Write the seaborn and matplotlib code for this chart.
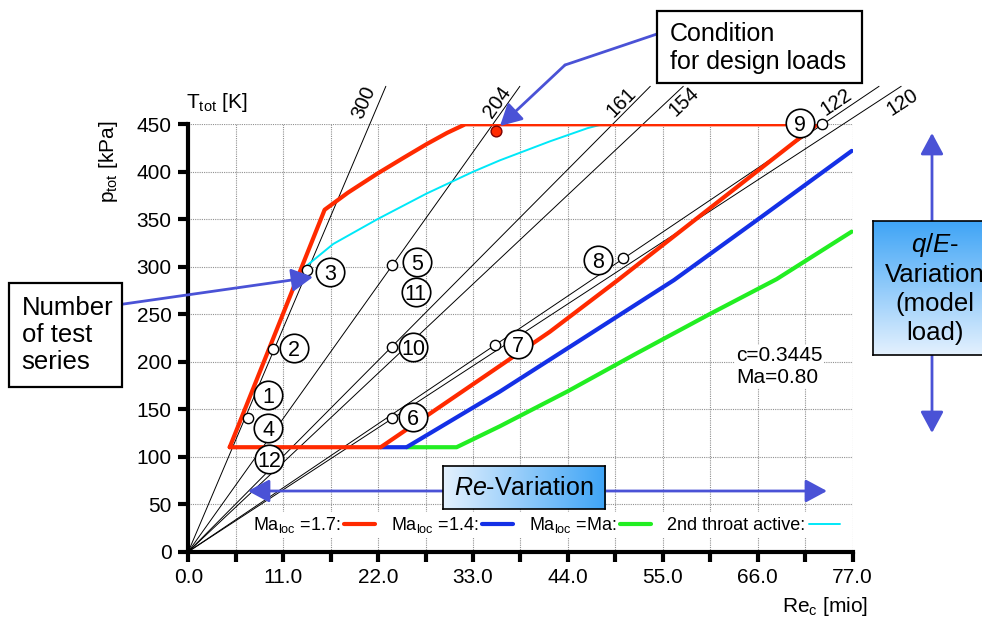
import numpy as np
import pandas as pd
import matplotlib
matplotlib.use("Agg")
import matplotlib.pyplot as plt
import seaborn as sns
from matplotlib.patches import FancyArrowPatch, Rectangle
from matplotlib.lines import Line2D
from matplotlib.colors import LinearSegmentedColormap
from matplotlib.ticker import MultipleLocator, FormatStrFormatter

# ---------------- data ----------------
ma17_re = [4.8, 15.8, 18.5, 21.9, 25.0, 27.6, 30.0, 32.1, 72.9, 49.8, 41.9, 22.3, 4.8]
ma17_p = [110, 360, 378, 398, 415, 429, 441, 450, 450, 286, 231.5, 110, 110]
ma14_re = [22.3, 25.3, 36.1, 46.0, 56.3, 66.5, 76.9]
ma14_p = [110, 110, 168.5, 226, 286, 353, 422]
mama_re = [25.3, 31.1, 36.1, 44.0, 52.0, 60.4, 68.2, 76.9]
mama_p = [110, 110, 132, 169, 209, 250, 287, 337]
throat_re = [13.3, 16.8, 21.9, 27.6, 33.0, 36.1, 41.9, 46.3, 48.0]
throat_p = [298, 324, 350, 377, 400, 412, 432, 446, 450]

ttot_labels = ["300", "204", "161", "154", "122", "120"]
ttot_slope = [21.4, 12.75, 9.15, 8.54, 6.12, 5.93]       # p_tot / Re_c along iso-T lines
ttot_label_re = [20.3, 35.8, 50.2, 57.4, 75.1, 82.8]

test_re = [6.9, 9.8, 13.8, 23.6, 23.6, 23.6, 35.5, 50.4, 73.5]
test_p = [141, 213, 296.5, 301.4, 216, 140.7, 218, 308.8, 450]
design_re = [35.7]
design_p = [443]

series_ids = ["1", "2", "3", "4", "5", "6", "7", "8", "9", "10", "11", "12"]
series_re = [9.27, 12.28, 16.42, 9.27, 26.47, 26.07, 38.17, 47.44, 70.88, 26.07, 26.35, 9.35]
series_p = [165, 214, 294.8, 130, 305.3, 142.1, 218.4, 307.1, 451, 215.9, 273.1, 97.6]

x_ticks = [0, 11, 22, 33, 44, 55, 66, 77]
y_ticks = [0, 50, 100, 150, 200, 250, 300, 350, 400, 450]

# ---------------- style ----------------
sns.set_theme(style="white")
plt.rcParams["font.family"] = ["Liberation Sans", "DejaVu Sans"]
plt.rcParams["mathtext.fontset"] = "custom"
plt.rcParams["mathtext.rm"] = "Liberation Sans"
plt.rcParams["mathtext.it"] = "Liberation Sans:italic"
plt.rcParams["mathtext.bf"] = "Liberation Sans:bold"
for key in ["text.color", "axes.labelcolor", "xtick.color", "ytick.color",
            "xtick.labelcolor", "ytick.labelcolor"]:
    plt.rcParams[key] = "black"

W, H = 982, 621
fig = plt.figure(figsize=(W / 100, H / 100), dpi=100)


def fp(x, y):
    return (x / W, 1 - y / H)


ax_l, ax_r, ax_t, ax_b = 188.3, 852.6, 124.3, 551.7
ax = fig.add_axes([ax_l / W, 1 - ax_b / H, (ax_r - ax_l) / W, (ax_b - ax_t) / H])
ax.set_xlim(0, 77)
ax.set_ylim(0, 450)

RED = "#ff2a00"
BLUE = "#1430e6"
GREEN = "#22ee22"
CYAN = "#00e8f8"
ARROW = "#4a52d6"

# iso-temperature lines
for lab, k, lx in zip(ttot_labels, ttot_slope, ttot_label_re):
    pend = 490.0
    sns.lineplot(x=[0, pend / k], y=[0, pend], color="black", lw=0.7,
                 ax=ax, clip_on=False, zorder=2)

sns.lineplot(x=throat_re, y=throat_p, color=CYAN, lw=1.4, ax=ax, sort=False,
             estimator=None, zorder=3, label="2nd throat active:")
sns.lineplot(x=mama_re, y=mama_p, color=GREEN, lw=3, ax=ax, sort=False,
             estimator=None, zorder=3, label="Ma$_{\\mathrm{loc}}$ =Ma:")
sns.lineplot(x=ma14_re, y=ma14_p, color=BLUE, lw=3, ax=ax, sort=False,
             estimator=None, zorder=3, label="Ma$_{\\mathrm{loc}}$ =1.4:")
sns.lineplot(x=ma17_re, y=ma17_p, color=RED, lw=3, ax=ax, sort=False,
             estimator=None, zorder=4, label="Ma$_{\\mathrm{loc}}$ =1.7:")

sns.scatterplot(x=test_re, y=test_p, color="white", edgecolor="black", s=55,
                linewidth=1.0, ax=ax, zorder=6, clip_on=False)
sns.scatterplot(x=design_re, y=design_p, color=RED, edgecolor="#7a0000", s=60,
                linewidth=1.0, ax=ax, zorder=6)
sns.scatterplot(x=series_re, y=series_p, color="white", edgecolor="black", s=420,
                linewidth=1.2, ax=ax, zorder=7, clip_on=False)
for sid, sx, sy in zip(series_ids, series_re, series_p):
    ax.text(sx, sy, sid, ha="center", va="center_baseline", fontsize=15.5, zorder=8)

# iso-T labels
for lab, k, lx in zip(ttot_labels, ttot_slope, ttot_label_re):
    p0 = ax.transData.transform((0, 0))
    p1 = ax.transData.transform((10, 10 * k))
    ang = np.degrees(np.arctan2(p1[1] - p0[1], p1[0] - p0[0]))
    ax.text(lx, 473.5, lab, rotation=ang, rotation_mode="anchor", ha="center",
            va="center", fontsize=14.5, clip_on=False)

# axes styling
ax.set_xticks(x_ticks)
ax.set_yticks(y_ticks)
ax.xaxis.set_minor_locator(MultipleLocator(5.5))
ax.xaxis.set_major_formatter(FormatStrFormatter("%.1f"))
ax.tick_params(which="both", direction="out", length=7, width=3, color="black",
               labelcolor="black", labelsize=15, pad=5)
ax.tick_params(axis="x", which="both", bottom=True)
ax.tick_params(axis="y", left=True)
ax.grid(True, which="both", axis="x", linestyle=(0, (1, 1)), color="#909090", lw=0.8)
ax.grid(True, which="major", axis="y", linestyle=(0, (1, 1)), color="#909090", lw=0.8)
ax.set_axisbelow(True)
for s in ["top", "right"]:
    ax.spines[s].set_visible(False)
for s in ["left", "bottom"]:
    ax.spines[s].set_linewidth(3)
    ax.spines[s].set_color("black")
ax.set_xlabel("")
ax.set_ylabel("")

# inline legend
h, l = ax.get_legend_handles_labels()
order = [3, 2, 1, 0]
leg = ax.legend([h[i] for i in order], [l[i] for i in order], ncol=4,
                markerfirst=False, frameon=True, fontsize=13, handlelength=1.7,
                handletextpad=0.2, columnspacing=0.9, borderpad=0.15,
                borderaxespad=0, loc="center left",
                bbox_to_anchor=fp(250, 525), bbox_transform=fig.transFigure)
leg.get_frame().set_facecolor("white")
leg.get_frame().set_edgecolor("none")
leg.get_frame().set_alpha(1)
for t in leg.get_texts():
    t.set_color("black")

ax.text(63.5, 195, "c=0.3445\nMa=0.80", fontsize=15, ha="left", va="center",
        linespacing=1.15, zorder=5,
        bbox=dict(fc="white", ec="none", pad=1))

# axis titles
fig.text(*fp(217, 102), "T$_{\\mathrm{tot}}$ [K]", ha="center", va="center", fontsize=15)
fig.text(*fp(108, 162), "p$_{\\mathrm{tot}}$ [kPa]", ha="center", va="center",
         fontsize=15, rotation=90)
fig.text(*fp(868, 606), "Re$_{\\mathrm{c}}$ [mio]", ha="right", va="center", fontsize=15)

# ---------------- annotations ----------------
def arrow(a, b, style="-|>"):
    fig.add_artist(FancyArrowPatch(fp(*a), fp(*b), transform=fig.transFigure,
                                   arrowstyle=style + ",head_length=0.65,head_width=0.35",
                                   mutation_scale=20, color=ARROW, lw=2,
                                   shrinkA=0, shrinkB=0, zorder=3))

arrow((248, 491), (827, 491), "<|-|>")
arrow((932, 133), (932, 433), "<|-|>")
fig.add_artist(Line2D([fp(660, 33)[0], fp(565, 65)[0]], [fp(660, 33)[1], fp(565, 65)[1]],
                      transform=fig.transFigure, color=ARROW, lw=2, zorder=3))
arrow((565, 65), (500, 126))
arrow((116.7, 305), (313, 277))


def box(x0, y0, x1, y1):
    fig.add_artist(Rectangle(fp(x0, y1), (x1 - x0) / W, (y1 - y0) / H,
                             transform=fig.transFigure, fc="white", ec="black",
                             lw=1.6, zorder=4))

box(657.3, 10.7, 861.7, 83.3)
fig.text(*fp(670, 48), "Condition\nfor design loads", ha="left", va="center",
         fontsize=18, linespacing=1.2, zorder=5)
box(9.3, 283.3, 121.7, 387.3)
fig.text(*fp(21.7, 335), "Number\nof test\nseries", ha="left", va="center",
         fontsize=18.5, linespacing=1.15, zorder=5)

light = "#e4f1fe"
dark = "#3ea4f6"
grad = LinearSegmentedColormap.from_list("g", [light, dark])


def gradbox(x0, y0, x1, y1, horizontal):
    gax = fig.add_axes([x0 / W, 1 - y1 / H, (x1 - x0) / W, (y1 - y0) / H], zorder=10)
    g = np.linspace(0, 1, 256)
    arr = g[None, :] if horizontal else g[:, None]
    gax.imshow(arr, cmap=grad, aspect="auto", extent=[0, 1, 0, 1], origin="lower")
    gax.set_xticks([])
    gax.set_yticks([])
    for s in gax.spines.values():
        s.set_visible(True)
        s.set_color("black")
        s.set_linewidth(1.2)
    return gax

rax = gradbox(442.7, 466, 605, 509.3, True)
rax.text(0.5, 0.5, "$\\mathit{Re}$-Variation", transform=rax.transAxes, ha="center",
         va="center", fontsize=18)
qax = gradbox(873, 220.7, 997, 355, False)
qax.text((935 - 873) / (997 - 873), 0.5, "$\\mathit{q/E}$-\nVariation\n(model\nload)",
         transform=qax.transAxes, ha="center", va="center", fontsize=18.5,
         linespacing=1.25)

fig.savefig("out.png", dpi=100)
